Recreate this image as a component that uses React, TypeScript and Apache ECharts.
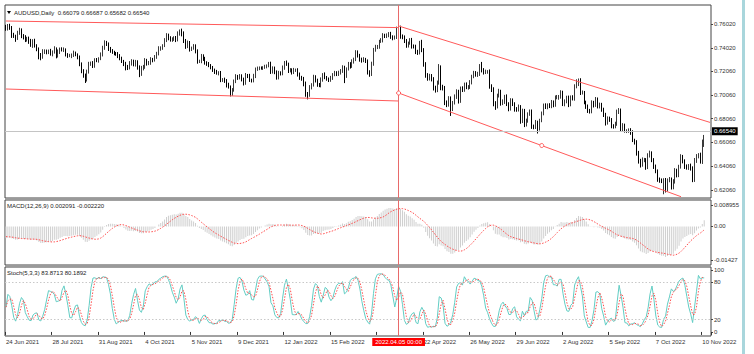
import React, { useEffect, useRef } from 'react';
import * as echarts from 'echarts';

// ---------- data (prices in pips, x1e4) ----------
const startDate = '2021-06-24';
const firstOpenPips = 7580;
const closePips = [
  7565, 7590,
  7575, 7510, 7500, 7480, 7525,
  7550, 7505, 7490, 7470, 7480,
  7455, 7425, 7460, 7420, 7395,
  7340, 7325, 7370, 7375, 7365,
  7375, 7350, 7365, 7395, 7335,
  7370, 7390, 7385, 7385, 7345,
  7335, 7335, 7340, 7360, 7345,
  7325, 7265, 7210, 7170, 7130,
  7200, 7270, 7270, 7250, 7300,
  7295, 7310, 7345, 7405, 7440,
  7435, 7395, 7375, 7365, 7355,
  7350, 7335, 7315, 7290, 7270,
  7240, 7235, 7270, 7290, 7260,
  7285, 7240, 7180, 7230, 7240,
  7295, 7270, 7275, 7305, 7300,
  7325, 7350, 7395, 7400, 7420,
  7465, 7505, 7485, 7470, 7475,
  7485, 7470, 7520, 7545, 7520,
  7460, 7415, 7445, 7390, 7400,
  7415, 7375, 7290, 7290, 7335,
  7310, 7275, 7270, 7255, 7235,
  7215, 7200, 7190, 7195, 7135,
  7135, 7125, 7090, 7075, 7020,
  7045, 7120, 7160, 7150, 7165,
  7135, 7105, 7170, 7165, 7130,
  7125, 7165, 7220, 7230, 7235,
  7230, 7235, 7245, 7250, 7265,
  7200, 7230, 7200, 7150, 7190,
  7185, 7235, 7275, 7265, 7210,
  7215, 7195, 7215, 7215, 7180,
  7150, 7145, 7100, 7015, 7005,
  7070, 7090, 7155, 7130, 7090,
  7085, 7135, 7175, 7150, 7140,
  7130, 7150, 7175, 7190, 7180,
  7195, 7205, 7235, 7165, 7225,
  7265, 7245, 7285, 7305, 7360,
  7335, 7305, 7295, 7305, 7290,
  7195, 7180, 7265, 7385, 7405,
  7410, 7455, 7465, 7505, 7500,
  7505, 7520, 7495, 7485, 7490,
  7560, 7570, 7500, 7490, 7460,
  7420, 7440, 7465, 7415, 7410,
  7365, 7360, 7445, 7385, 7265,
  7175, 7145, 7165, 7135, 7065,
  7045, 7110, 7240, 7075, 7065,
  6945, 6925, 6975, 6890, 6940,
  6990, 7035, 6955, 7060, 7050,
  7095, 7070, 7070, 7110, 7160,
  7190, 7175, 7180, 7240, 7215,
  7195, 7200, 7200, 7080, 7050,
  6935, 6910, 7000, 7035, 6935,
  6950, 6990, 6930, 6890, 6960,
  6930, 6885, 6880, 6905, 6785,
  6870, 6760, 6790, 6845, 6865,
  6740, 6735, 6775, 6720, 6790,
  6850, 6915, 6905, 6920, 6910,
  6945, 6920, 6985, 6985, 6990,
  7025, 6930, 6950, 6985, 6925,
  6985, 6975, 7075, 7100, 7130,
  7025, 7025, 6945, 6910, 6870,
  6865, 6940, 6920, 6970, 6910,
  6925, 6880, 6840, 6770, 6805,
  6795, 6745, 6740, 6760, 6860,
  6875, 6720, 6750, 6705, 6705,
  6710, 6690, 6625, 6610, 6520,
  6450, 6420, 6460, 6460, 6400,
  6495, 6515, 6460, 6405, 6365,
  6295, 6285, 6280, 6285, 6210,
  6285, 6295, 6230, 6275, 6365,
  6330, 6400, 6485, 6450, 6405,
  6395, 6410, 6385, 6290, 6450,
  6490, 6500, 6450, 6608, 6654,
];
// upper wick above body top, lower wick below body bottom (pips)
const upWick = [
  15, 12,
  14, 10, 18, 12, 20,
  20, 15, 12, 18, 14,
  16, 22, 14, 18, 12,
  10, 18, 20, 14, 12,
  12, 18, 15, 20, 10,
  18, 14, 16, 20, 12,
  12, 16, 14, 18, 10,
  10, 12, 14, 12, 15,
  18, 14, 16, 20, 14,
  16, 12, 18, 14, 25,
  20, 12, 14, 16, 12,
  12, 16, 14, 12, 10,
  14, 18, 20, 16, 12,
  15, 12, 14, 20, 18,
  20, 14, 16, 18, 12,
  16, 18, 20, 14, 12,
  18, 20, 16, 14, 15,
  14, 16, 20, 11, 18,
  20, 16, 18, 14, 12,
  18, 16, 14, 12, 15,
  12, 16, 14, 12, 10,
  14, 12, 16, 10, 12,
  12, 16, 14, 18, 10,
  18, 15, 20, 14, 16,
  14, 16, 20, 12, 18,
  12, 18, 16, 14, 10,
  10, 12, 14, 12, 18,
  20, 16, 14, 12, 18,
  14, 18, 16, 20, 12,
  16, 14, 18, 12, 15,
  14, 16, 12, 18, 15,
  18, 14, 20, 16, 12,
  16, 18, 14, 20, 15,
  12, 16, 14, 18, 15,
  14, 18, 20, 16, 12,
  18, 16, 20, 14, 22,
  20, 16, 14, 18, 12,
  14, 18, 20, 16, 22,
  16, 14, 18, 20, 15,
  18, 14, 16, 12, 15,
  20, 15, 18, 14, 16,
  16, 14, 18, 20, 15,
  18, 20, 15, 24, 14,
  16, 14, 18, 16, 20,
  18, 16, 25, 14, 16,
  16, 14, 20, 18, 15,
  20, 18, 14, 16, 18,
  14, 16, 18, 20, 15,
  18, 16, 20, 25, 43,
  16, 18, 14, 20, 15,
  20, 18, 16, 22, 14,
  18, 16, 20, 14, 18,
  16, 14, 18, 20, 15,
  20, 18, 16, 14, 18,
  18, 16, 20, 14, 15,
  16, 18, 20, 14, 16,
  18, 14, 16, 20, 15,
  20, 16, 18, 14, 15,
  16, 18, 20, 37, 14,
  16, 18, 14, 12, 15,
  18, 20, 16, 18, 14,
  16, 14, 18, 15, 20,
  18, 16, 14, 20, 22,
  20, 16, 18, 14, 12,
  14, 16, 18, 12, 15,
  15, 18, 20, 16, 14,
  20, 22, 16, 14, 15,
  14, 16, 18, 20, 22,
  18, 20, 16, 22, 25,
  20, 18, 22, 16, 14,
  16, 14, 18, 20, 25,
  18, 16, 20, 22, 15,
];
const downWick = [
  20, 18,
  22, 25, 15, 28, 12,
  14, 22, 18, 20, 16,
  20, 15, 24, 16, 22,
  35, 28, 15, 20, 18,
  16, 14, 20, 12, 22,
  15, 20, 14, 18, 16,
  18, 12, 20, 15, 14,
  20, 18, 22, 20, 24,
  12, 15, 20, 18, 16,
  14, 18, 12, 16, 20,
  18, 20, 15, 14, 16,
  15, 20, 18, 16, 22,
  28, 20, 15, 18, 14,
  16, 22, 25, 14, 18,
  15, 18, 14, 16, 20,
  14, 16, 12, 18, 15,
  12, 15, 20, 16, 18,
  15, 20, 14, 16, 22,
  18, 22, 16, 20, 15,
  14, 20, 22, 16, 18,
  18, 15, 20, 16, 14,
  16, 18, 14, 20, 22,
  20, 18, 22, 16, 27,
  22, 12, 15, 18, 14,
  16, 20, 14, 18, 15,
  15, 14, 18, 12, 16,
  12, 14, 10, 16, 12,
  18, 15, 20, 16, 14,
  16, 14, 18, 15, 20,
  15, 18, 14, 16, 20,
  18, 20, 22, 25, 37,
  15, 18, 14, 20, 16,
  14, 16, 18, 12, 15,
  16, 14, 18, 12, 16,
  15, 18, 14, 60, 16,
  14, 18, 12, 16, 15,
  15, 20, 18, 14, 16,
  18, 22, 15, 14, 16,
  14, 16, 12, 18, 16,
  16, 14, 18, 20, 14,
  14, 20, 22, 16, 18,
  18, 16, 12, 20, 14,
  16, 18, 14, 20, 22,
  25, 20, 18, 16, 22,
  20, 16, 18, 30, 22,
  25, 22, 18, 61, 20,
  15, 18, 22, 16, 20,
  18, 16, 20, 14, 16,
  14, 16, 18, 15, 20,
  18, 14, 16, 22, 20,
  25, 30, 18, 16, 20,
  15, 20, 18, 22, 16,
  18, 20, 16, 14, 22,
  16, 25, 20, 18, 15,
  20, 18, 16, 39, 14,
  14, 16, 18, 20, 15,
  16, 18, 14, 16, 20,
  16, 18, 20, 15, 22,
  15, 16, 18, 14, 20,
  20, 16, 18, 22, 16,
  16, 14, 20, 15, 18,
  18, 16, 20, 22, 14,
  16, 20, 18, 15, 14,
  15, 22, 18, 16, 20,
  18, 20, 16, 22, 25,
  22, 25, 18, 20, 24,
  18, 16, 20, 22, 18,
  20, 18, 16, 110, 25,
  16, 14, 20, 18, 15,
  18, 16, 14, 20, 22,
  18, 20, 16, 18, 16,
  16, 18, 22, 25, 40,
];

// tick labels every 24 bars; the 21 Mar 2022 one is hidden under the crosshair date box
const xTickLabels = [
  '24 Jun 2021', '28 Jul 2021', '31 Aug 2021', '4 Oct 2021', '5 Nov 2021',
  '9 Dec 2021', '12 Jan 2022', '15 Feb 2022', '', '22 Apr 2022',
  '26 May 2022', '29 Jun 2022', '2 Aug 2022', '5 Sep 2022', '7 Oct 2022', '10 Nov 2022',
];
const xTickEvery = 24;
const priceTicks = [0.6206, 0.6406, 0.6606, 0.6806, 0.7006, 0.7206, 0.7402, 0.7602];
const macdTicks = [0.008955, 0, -0.01427];
const macdTickLabels = ['0.008955', '0.00', '-0.01427'];
const stochTicks = [0, 20, 80, 100];
const stochLevels = [20, 80];
const macdSeed = { ema12: 0.7612, ema26: 0.7662, signal: -0.0042 };

// trend lines: [index, price] pairs
const trendLines = [
  [[0, 0.76272], [203, 0.75717]],
  [[0, 0.70553], [203, 0.69544]],
  [[203, 0.75852], [364, 0.67744]],
  [[203, 0.70217], [349, 0.61495]],
];
const trendHandles = [[203, 0.70217], [277, 0.65801]];
const crosshairIndex = 203;
const crosshairLabel = '2022.04.05 00:00';
const lastPrice = 0.6654;
const lastPriceLabel = '0.66540';
const titleText = 'AUDUSD,Daily  0.66079 0.66687 0.65682 0.66540';
const macdTitle = 'MACD(12,26,9) 0.002091 -0.002220';
const stochTitle = 'Stoch(5,3,3) 83.8713 80.1892';
const emptyRightBars = 3;

const FONT = 'Liberation Sans';

function buildDates(n: number): string[] {
  const out: string[] = [];
  const d = new Date(startDate + 'T00:00:00Z');
  while (out.length < n) {
    const wd = d.getUTCDay();
    if (wd !== 0 && wd !== 6) out.push(d.toISOString().slice(0, 10));
    d.setUTCDate(d.getUTCDate() + 1);
  }
  return out;
}

export default function App() {
  const ref = useRef<HTMLDivElement>(null);
  useEffect(() => {
    if (!ref.current) return;
    document.body.style.margin = '0';
    const chart = echarts.init(ref.current, undefined, { renderer: 'svg' });

    const n = closePips.length;
    const dates = buildDates(n);
    const cats = dates.concat(Array.from({ length: emptyRightBars }, (_, i) => ' '.repeat(i + 1)));
    const candles: number[][] = [];
    const closes: number[] = [];
    const highs: number[] = [];
    const lows: number[] = [];
    for (let i = 0; i < n; i++) {
      const o = i === 0 ? firstOpenPips : closePips[i - 1];
      const c = closePips[i];
      const h = Math.max(o, c) + upWick[i];
      const l = Math.min(o, c) - downWick[i];
      candles.push([o / 1e4, c / 1e4, l / 1e4, h / 1e4]);
      closes.push(c / 1e4);
      highs.push(h / 1e4);
      lows.push(l / 1e4);
    }
    // MACD(12,26,9), MT4 style (signal = SMA of main)
    const k12 = 2 / 13, k26 = 2 / 27;
    let e12 = macdSeed.ema12, e26 = macdSeed.ema26;
    const macd: number[] = [];
    for (const c of closes) {
      e12 += k12 * (c - e12);
      e26 += k26 * (c - e26);
      macd.push(e12 - e26);
    }
    const buf = Array(8).fill(macdSeed.signal).concat(macd);
    const signal = macd.map((_, i) => {
      let s = 0;
      for (let j = i; j < i + 9; j++) s += buf[j];
      return s / 9;
    });
    // Stochastic(5,3,3)
    const num: number[] = [], den: number[] = [];
    for (let i = 0; i < n; i++) {
      let lo = Infinity, hi = -Infinity;
      for (let j = Math.max(0, i - 4); j <= i; j++) { lo = Math.min(lo, lows[j]); hi = Math.max(hi, highs[j]); }
      num.push(closes[i] - lo); den.push(hi - lo);
    }
    const kLine: number[] = [];
    for (let i = 0; i < n; i++) {
      let a = 0, b = 0;
      for (let j = Math.max(0, i - 2); j <= i; j++) { a += num[j]; b += den[j]; }
      kLine.push(b === 0 ? 50 : (100 * a) / b);
    }
    const dLine = kLine.map((_, i) => {
      let s = 0, m = 0;
      for (let j = Math.max(0, i - 2); j <= i; j++) { s += kLine[j]; m++; }
      return s / m;
    });

    const axisText = { fontFamily: FONT, fontSize: 6, color: '#333' };
    const crossLine = { xAxis: crosshairIndex, lineStyle: { color: '#e86a6a', width: 1, type: 'solid' as const }, label: { show: false } };

    const baseGraphic = (crossX: number) => [
      { id: 'strip', type: 'rect', shape: { x: 742, y: 0, width: 3, height: 354 }, style: { fill: '#a9d6dc' }, z: 0 },
      { id: 'sep1', type: 'rect', shape: { x: 5, y: 198, width: 706, height: 2 }, style: { fill: '#9a9a9a' }, z: 5 },
      { id: 'sep2', type: 'rect', shape: { x: 5, y: 265, width: 706, height: 2 }, style: { fill: '#9a9a9a' }, z: 5 },
      { id: 'tri', type: 'polygon', shape: { points: [[7, 11], [11, 11], [9, 14]] }, style: { fill: '#000' }, z: 10 },
      { id: 'title', type: 'text', x: 14, y: 13, style: { text: titleText, font: `6px "${FONT}"`, fill: '#222', verticalAlign: 'middle' }, z: 10 },
      { id: 'mt', type: 'text', x: 7, y: 206, style: { text: macdTitle, font: `6px "${FONT}"`, fill: '#222', verticalAlign: 'middle' }, z: 10 },
      { id: 'st', type: 'text', x: 7, y: 273, style: { text: stochTitle, font: `6px "${FONT}"`, fill: '#222', verticalAlign: 'middle' }, z: 10 },
      {
        id: 'xbox', type: 'text', x: crossX, y: 342, z: 20,
        style: {
          text: crosshairLabel, font: `6px "${FONT}"`, fill: '#fff', align: 'center', verticalAlign: 'middle',
          backgroundColor: '#ff0000', padding: [1, 3],
        },
      },
    ];

    const option: any = {
      animation: false,
      textStyle: { fontFamily: FONT },
      grid: [
        { left: 5, top: 5, width: 706, height: 193, show: true, borderColor: '#444', borderWidth: 1, backgroundColor: '#fff' },
        { left: 5, top: 200, width: 706, height: 65, show: true, borderColor: '#444', borderWidth: 1, backgroundColor: '#fff' },
        { left: 5, top: 267, width: 706, height: 69, show: true, borderColor: '#444', borderWidth: 1, backgroundColor: '#fff' },
      ],
      xAxis: [0, 1, 2].map((g) => ({
        type: 'category',
        gridIndex: g,
        data: cats,
        boundaryGap: true,
        show: g === 2,
        axisLine: { show: false },
        splitLine: { show: false },
        axisTick: {
          show: g === 2, length: 3, lineStyle: { color: '#333' },
          interval: (i: number) => i % xTickEvery === 0 && i / xTickEvery < xTickLabels.length,
        },
        axisLabel: {
          show: g === 2, ...axisText, align: 'left', margin: 3,
          interval: (i: number) => i % xTickEvery === 0 && i / xTickEvery < xTickLabels.length && xTickLabels[i / xTickEvery] !== '',
          formatter: (_v: string, i: number) => xTickLabels[i / xTickEvery] || '',
        },
      })),
      yAxis: [
        {
          type: 'value', gridIndex: 0, position: 'right', min: 0.61387, max: 0.77618, scale: true,
          splitLine: { show: false }, axisLine: { show: false },
          axisTick: { show: true, length: 2, lineStyle: { color: '#444' }, customValues: priceTicks },
          axisLabel: { ...axisText, margin: 3, customValues: priceTicks, formatter: (v: number) => v.toFixed(5) },
        },
        {
          type: 'value', gridIndex: 1, position: 'right', min: -0.016205, max: 0.011087,
          splitLine: { show: false }, axisLine: { show: false },
          axisTick: { show: true, length: 2, lineStyle: { color: '#444' }, customValues: macdTicks },
          axisLabel: {
            ...axisText, margin: 3, customValues: macdTicks,
            formatter: (v: number) => {
              const k = macdTicks.findIndex((t) => Math.abs(t - v) < 1e-9);
              return k >= 0 ? macdTickLabels[k] : '';
            },
          },
        },
        {
          type: 'value', gridIndex: 2, position: 'right', min: -6.56, max: 104.9,
          splitLine: { show: false }, axisLine: { show: false },
          axisTick: { show: true, length: 2, lineStyle: { color: '#444' }, customValues: stochTicks },
          axisLabel: { ...axisText, margin: 3, customValues: stochTicks, formatter: (v: number) => String(Math.round(v)) },
        },
      ],
      series: [
        {
          type: 'candlestick', xAxisIndex: 0, yAxisIndex: 0, data: candles, barWidth: 1,
          itemStyle: { color: '#ffffff', color0: '#000000', borderColor: '#3a3a3a', borderColor0: '#000000', borderWidth: 1 },
          markLine: {
            silent: true, symbol: ['none', 'none'], animation: false,
            lineStyle: { color: '#ff5a5a', width: 1, type: 'solid' },
            label: { show: false },
            data: [
              ...trendLines.map(([a, b]) => [{ coord: a }, { coord: b }]),
              {
                yAxis: lastPrice, lineStyle: { color: '#c4c4c4', width: 1, type: 'solid' },
                label: {
                  show: true, position: 'end', distance: 1, formatter: lastPriceLabel,
                  fontFamily: FONT, fontSize: 6, color: '#fff', backgroundColor: '#000', padding: [1, 2],
                },
              },
              crossLine,
            ],
          },
          markPoint: {
            silent: true, symbol: 'circle', symbolSize: 4, label: { show: false },
            itemStyle: { color: '#fff', borderColor: '#ff5a5a', borderWidth: 1 },
            data: trendHandles.map((c) => ({ coord: c })),
          },
        },
        {
          type: 'bar', xAxisIndex: 1, yAxisIndex: 1, data: macd, barWidth: 1,
          itemStyle: { color: '#cfcfcf' },
          markLine: { silent: true, symbol: ['none', 'none'], label: { show: false }, data: [crossLine] },
        },
        {
          type: 'line', xAxisIndex: 1, yAxisIndex: 1, data: signal, showSymbol: false, symbol: 'none',
          lineStyle: { color: '#ff4d4d', width: 1, type: [1.5, 1.5] },
        },
        {
          type: 'line', xAxisIndex: 2, yAxisIndex: 2, data: kLine, showSymbol: false, symbol: 'none',
          lineStyle: { color: '#62cdc4', width: 1 },
          markLine: {
            silent: true, symbol: ['none', 'none'], label: { show: false },
            data: [
              ...stochLevels.map((v) => ({ yAxis: v, lineStyle: { color: '#c8c8c8', width: 1, type: [1.5, 2] } })),
              crossLine,
            ],
          },
        },
        {
          type: 'line', xAxisIndex: 2, yAxisIndex: 2, data: dLine, showSymbol: false, symbol: 'none',
          lineStyle: { color: '#ff4d4d', width: 1, type: [1.5, 1.5] },
        },
      ],
      graphic: baseGraphic(399),
    };
    chart.setOption(option);
    const cx = chart.convertToPixel({ xAxisIndex: 2 }, crosshairIndex) as unknown as number;
    chart.setOption({ graphic: baseGraphic(typeof cx === 'number' ? cx : 399) });
    return () => chart.dispose();
  }, []);
  return <div ref={ref} style={{ position: 'fixed', left: 0, top: 0, width: 754, height: 354, background: '#fff' }} />;
}
